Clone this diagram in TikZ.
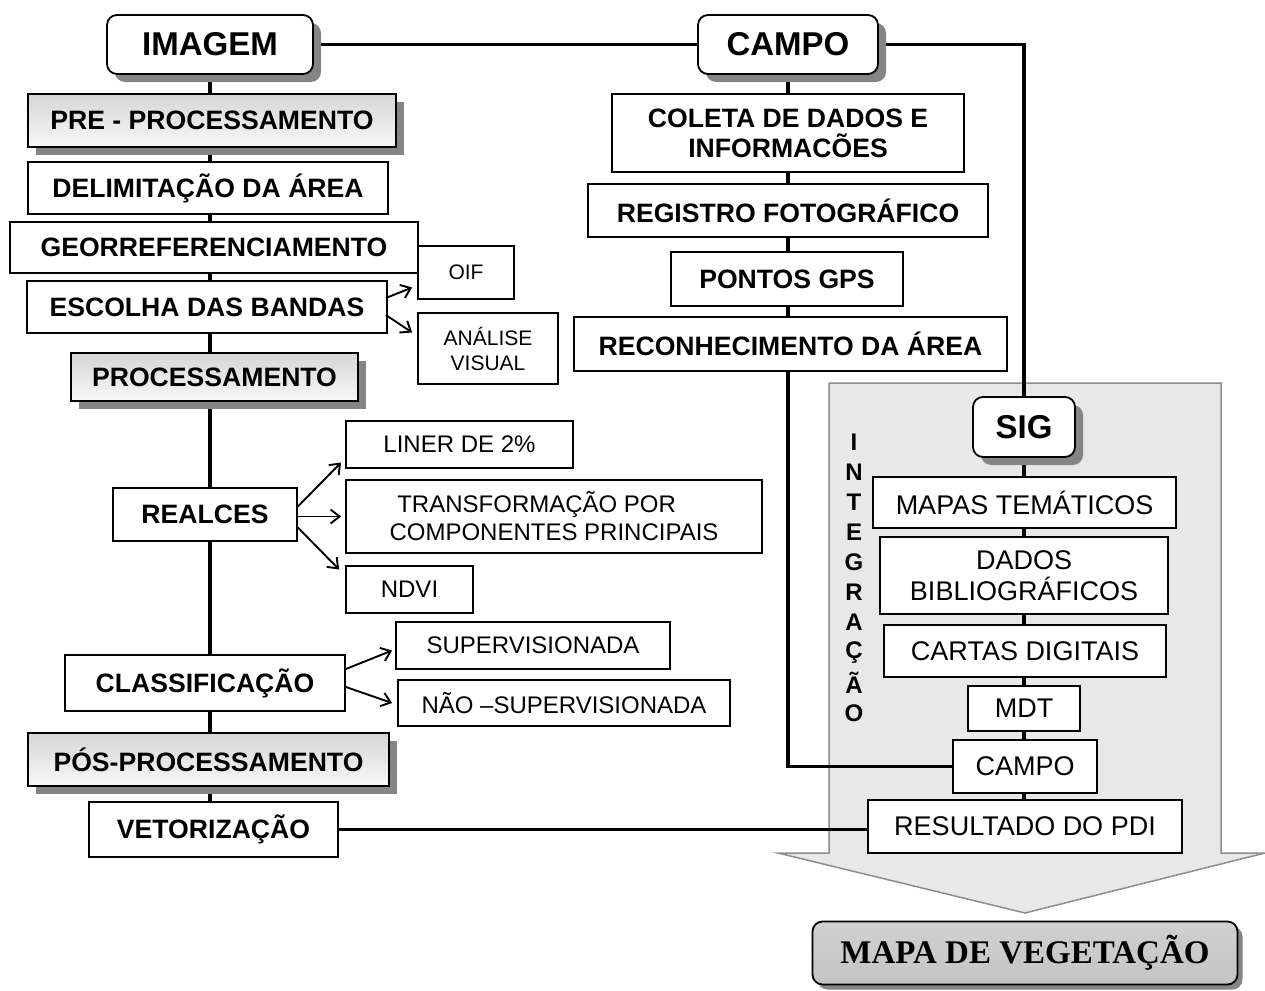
\documentclass[tikz,border=0pt]{standalone}
\usepackage{fontspec}
\setmainfont{Liberation Sans}
\newfontfamily\serifbold{Liberation Serif}
\usetikzlibrary{shadows,arrows.meta,calc,backgrounds}
\definecolor{arrowfill}{HTML}{E8E8E8}
\definecolor{arrowedge}{HTML}{8C8C8C}
\definecolor{shadowgray}{HTML}{858585}
\definecolor{mapfill}{HTML}{C4C4C4}
\begin{document}
\begin{tikzpicture}[x=1pt,y=-1pt,
  box/.style={draw=black,line width=1.8pt,fill=white,inner sep=0pt,align=center,
    font=\fontsize{24}{28}\selectfont},
  sbox/.style={box,font=\fontsize{21}{25}\selectfont},
  gbox/.style={box,font=\fontsize{27}{31}\selectfont},
  bbox/.style={box,font=\fontsize{26.6}{30}\selectfont\bfseries},
  shade box/.style={bbox,top color=gray!32,bottom color=gray!6,
    drop shadow={shadow xshift=8pt,shadow yshift=-8pt,fill=shadowgray,opacity=1}},
  title/.style={box,rounded corners=10pt,font=\fontsize{33}{36}\selectfont\bfseries,
    drop shadow={shadow xshift=8pt,shadow yshift=-8pt,fill=shadowgray,opacity=1}},
  conn/.style={line width=3.2pt,line cap=rect},
  arr/.style={line width=1.9pt,-{Straight Barb[length=9pt,width=14pt,line width=1.9pt]}},
  vletter/.style={font=\fontsize{24}{26}\selectfont\bfseries,inner sep=0pt}
]
\useasboundingbox (0,0) rectangle (1265,990);

% ---- titles
\node[title,minimum width=206,minimum height=59] (imagem) at (210,44.5) {IMAGEM};
\node[title,minimum width=180,minimum height=59] (campo) at (788,44.5) {CAMPO};
\node[title,minimum width=102,minimum height=60] (sig) at (1024,427) {SIG};

% ---- left column
\node[shade box,minimum width=368,minimum height=53] (pre) at (212,120.5) {PRE - PROCESSAMENTO};
\node[bbox,minimum width=360,minimum height=52] (delim) at (208,188) {DELIMITAÇÃO DA ÁREA};
\node[bbox,minimum width=408,minimum height=51] (geo) at (214,247.5) {GEORREFERENCIAMENTO};
\node[bbox,minimum width=360,minimum height=52] (esc) at (207,307) {ESCOLHA DAS BANDAS};
\node[sbox,minimum width=96,minimum height=53] (oif) at (466,272.5) {OIF};
\node[sbox,minimum width=140,minimum height=71] (anal) at (488,348.5) {ANÁLISE\\VISUAL};
\node[shade box,minimum width=287,minimum height=48] (proc) at (214.5,377) {PROCESSAMENTO};
\node[bbox,minimum width=184,minimum height=53] (realces) at (205,514.5) {REALCES};
\node[box,minimum width=227,minimum height=47] (liner) at (459.5,444.5) {LINER DE 2\%};
\node[box,minimum width=416,minimum height=73] (transf) at (554,516.5) {TRANSFORMAÇÃO POR\hphantom{NN}\\COMPONENTES PRINCIPAIS};
\node[box,minimum width=127,minimum height=47] (ndvi) at (409.5,589.5) {NDVI};
\node[bbox,minimum width=280,minimum height=56] (class) at (205,683) {CLASSIFICAÇÃO};
\node[box,minimum width=274,minimum height=47] (sup) at (533,645.5) {SUPERVISIONADA};
\node[box,minimum width=332,minimum height=46] (nsup) at (564,703) {NÃO –SUPERVISIONADA};
\node[shade box,minimum width=361,minimum height=53] (pos) at (208.5,759.5) {PÓS-PROCESSAMENTO};
\node[bbox,minimum width=249,minimum height=55] (vet) at (213.5,829.5) {VETORIZAÇÃO};

% ---- campo column
\node[bbox,minimum width=352,minimum height=78] (coleta) at (788,133) {COLETA DE DADOS E\\INFORMACÕES};
\node[bbox,minimum width=400,minimum height=53] (reg) at (788,210.5) {REGISTRO FOTOGRÁFICO};
\node[bbox,minimum width=232,minimum height=54] (gps) at (787,279) {PONTOS GPS};
\node[bbox,minimum width=433,minimum height=54] (recon) at (790.5,344) {RECONHECIMENTO DA ÁREA};

% ---- SIG column
\node[gbox,minimum width=303,minimum height=51] (mapas) at (1024.5,502.5) {MAPAS TEMÁTICOS};
\node[gbox,minimum width=288,minimum height=77] (dados) at (1024,575.5) {DADOS\\BIBLIOGRÁFICOS};
\node[gbox,minimum width=282,minimum height=52] (cartas) at (1025,651) {CARTAS DIGITAIS};
\node[gbox,minimum width=112,minimum height=45] (mdt) at (1024,708.5) {MDT};
\node[gbox,minimum width=144,minimum height=53] (campo2) at (1025,766.5) {CAMPO};
\node[gbox,minimum width=314,minimum height=53] (res) at (1025,826.5) {RESULTADO DO PDI};

% ---- final
\node[draw=black,line width=1.8pt,rounded corners=10pt,top color=mapfill!80,bottom color=mapfill,
  minimum width=425,minimum height=63,inner sep=0pt,
  font=\serifbold\fontsize{33}{36}\selectfont\bfseries,
  drop shadow={shadow xshift=5pt,shadow yshift=-5pt,fill=shadowgray,opacity=1}] (mapa) at (1025,953) {MAPA DE VEGETAÇÃO};

% ---- INTEGRAÇÃO letters
\foreach \l [count=\i from 0] in {I,N,T,E,G,R,A,Ç,Ã,O}
  \node[vletter] (int\i) at (854,{442+30.1*\i}) {\l};

% ---- background: big arrow and connectors
\begin{scope}[on background layer]
  \fill[arrowfill,draw=arrowedge,line width=1.5pt,line join=miter]
    (829,383) -- (1221,383) -- (1221,853) -- (1265,853) -- (1025,913)
    -- (778,853) -- (829,853) -- cycle;
  \draw[conn] (imagem.east) -- (campo.west);
  \draw[conn] (campo.east) -| (sig.north);
  \draw[conn] (imagem.south) -- (imagem.south |- vet.north);
  \draw[conn] (campo.south) |- (campo2.west);
  \draw[conn] (sig.south) -- (sig.south |- res.north);
  \draw[conn] (vet.east) -- (vet.east -| res.west);
\end{scope}

% ---- small arrows
\draw[arr] ($(esc.east)+(-2,-9)$) -- ($(oif.west)+(-5,15)$);
\draw[arr] ($(esc.east)+(-2,8)$) -- ($(anal.west)+(-5,-16)$);
\draw[arr] ($(realces.east)+(0,-8)$) -- ($(liner.west)+(-4,18)$);
\draw[arr] ($(realces.east)+(0,2)$) -- ($(transf.west)+(-4,0)$);
\draw[arr] ($(realces.east)+(0,13)$) -- ($(ndvi.west)+(-6,-20)$);
\draw[arr] ($(class.east)+(0,-14)$) -- ($(sup.west)+(-3,5)$);
\draw[arr] ($(class.east)+(0,4)$) -- ($(nsup.west)+(-5,0)$);
\end{tikzpicture}
\end{document}
